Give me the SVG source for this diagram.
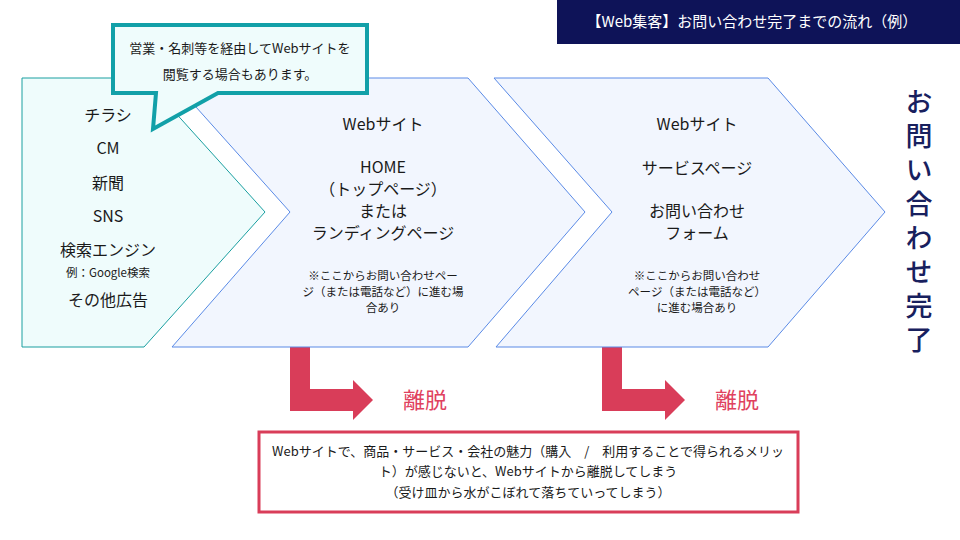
<svg xmlns="http://www.w3.org/2000/svg" width="960" height="540" viewBox="0 0 960 540">
<style>
text{font-family:"Noto Sans CJK JP","Liberation Sans",sans-serif;fill:#1a1a1a;text-anchor:middle}
.m{font-size:16px}.s{font-size:11.5px}
.red{fill:#d93d59}
.v{fill:#18205e;font-size:27px;font-weight:500;writing-mode:vertical-rl;text-anchor:start;letter-spacing:7px}
</style>
<rect width="960" height="540" fill="#fff"/>
<g id="title"><rect x="557" y="0" width="403" height="44" fill="#0e1358"/><text x="752" y="27" style="fill:#fff;font-size:15px">【Web集客】お問い合わせ完了までの流れ（例）</text></g>
<g id="connectors">
<path class="red" d="M290 329H310V389H353V380L373 400L353 420V411H290Z"/>
<path class="red" d="M602 329H622V389H665V380L685 400L665 420V411H602Z"/>
</g>
<g id="sources">
<polygon points="22,78 144,78 265,212 144,347 22,347" fill="#effcfc" stroke="#1a9fa0" stroke-width="1"/>
<text class="m" x="108" y="121">チラシ</text>
<text class="m" x="108" y="154">CM</text>
<text class="m" x="108" y="189">新聞</text>
<text class="m" x="108" y="222">SNS</text>
<text class="m" x="108" y="256">検索エンジン</text>
<text class="s" x="108" y="277">例：Google検索</text>
<text class="m" x="108" y="306">その他広告</text>
</g>
<g id="home">
<polygon points="170,78 468,78 585,212 468,347 172,347 290,212" fill="#f2f6fe" stroke="#5a8ae6" stroke-width="1"/>
<text class="m" x="383" y="130">Webサイト</text>
<text class="m" x="383" y="173">HOME</text>
<text class="m" x="383" y="195">（トップページ）</text>
<text class="m" x="383" y="217">または</text>
<text class="m" x="383" y="239">ランディングページ</text>
<text class="s" x="383" y="280">※ここからお問い合わせペー</text>
<text class="s" x="383" y="296">ジ（または電話など）に進む場</text>
<text class="s" x="383" y="312">合あり</text>
</g>
<g id="service">
<polygon points="494,78 768,78 885,212 768,347 496,347 612,212" fill="#f2f6fe" stroke="#5a8ae6" stroke-width="1"/>
<text class="m" x="697" y="130">Webサイト</text>
<text class="m" x="697" y="174">サービスページ</text>
<text class="m" x="697" y="217">お問い合わせ</text>
<text class="m" x="697" y="239">フォーム</text>
<text class="s" x="697" y="280">※ここからお問い合わせ</text>
<text class="s" x="697" y="296">ページ（または電話など）</text>
<text class="s" x="697" y="312">に進む場合あり</text>
</g>
<g id="callout">
<path d="M113 25H367V93H218L153 129L156 93H113Z" fill="#effcfc" stroke="#12a0a8" stroke-width="4" stroke-linejoin="miter"/>
<text x="240" y="53" style="font-size:13px">営業・名刺等を経由してWebサイトを</text>
<text x="240" y="79" style="font-size:13px">閲覧する場合もあります。</text>
</g>
<g id="done">
<text class="v" x="919" y="88">お問い合わせ完了</text>
</g>
<g id="exit1"><text x="425" y="408" style="fill:#e0415e;font-size:22px">離脱</text></g>
<g id="exit2"><text x="737" y="408" style="fill:#e0415e;font-size:22px">離脱</text></g>
<g id="note">
<rect x="259" y="432" width="539" height="80" fill="#fff" stroke="#d93d59" stroke-width="3"/>
<text x="528" y="456" style="font-size:13px">Webサイトで、商品・サービス・会社の魅力（購入　/　利用することで得られるメリッ</text>
<text x="528" y="476" style="font-size:13px">ト）が感じないと、Webサイトから離脱してしまう</text>
<text x="528" y="497" style="font-size:13px">（受け皿から水がこぼれて落ちていってしまう）</text>
</g>
</svg>
